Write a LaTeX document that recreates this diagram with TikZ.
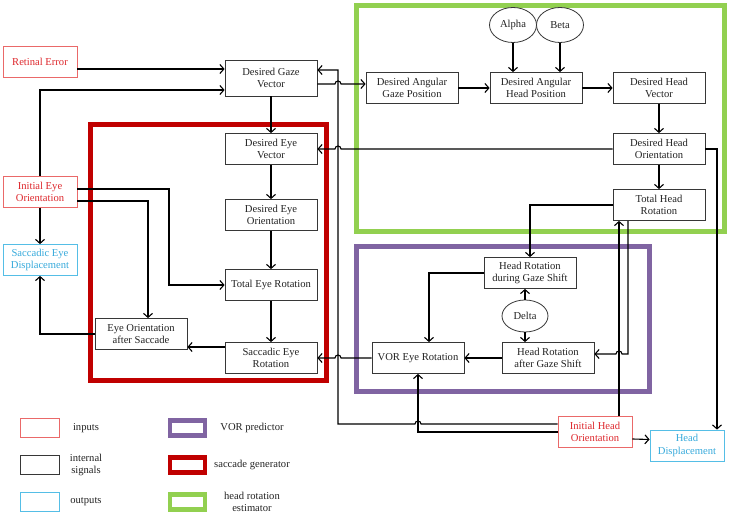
\documentclass[tikz,border=0pt]{standalone}
\usepackage{fontspec}
\setmainfont{Liberation Serif}
\usetikzlibrary{shapes.geometric,arrows.meta}

\definecolor{sigdraw}{RGB}{55,55,55}
\definecolor{sigtext}{RGB}{35,35,35}
\definecolor{indraw}{RGB}{234,105,105}
\definecolor{intext}{RGB}{222,40,45}
\definecolor{outdraw}{RGB}{85,190,230}
\definecolor{outtext}{RGB}{55,170,220}
\definecolor{sacred}{RGB}{192,0,0}
\definecolor{vorpurple}{RGB}{128,100,162}
\definecolor{headgreen}{RGB}{146,208,80}

\begin{document}
\begin{tikzpicture}[x=1pt,y=1pt,
                    every node/.style={font=\fontsize{10.6}{12.7}\selectfont},
                    sig/.style={draw=sigdraw,text=sigtext,line width=0.8pt,fill=white,align=center,
                                minimum width=92pt,minimum height=31pt,inner sep=1pt},
                    inp/.style={sig,draw=indraw,text=intext,minimum width=74pt},
                    outp/.style={sig,draw=outdraw,text=outtext,minimum width=74pt},
                    par/.style={ellipse,draw=sigdraw,text=sigtext,line width=0.8pt,fill=white,
                                minimum width=47pt,minimum height=35pt,inner sep=0pt},
                    frame/.style={line width=5pt},
                    key/.style={minimum width=35pt,minimum height=15pt,inner sep=0pt},
                    keytxt/.style={text=sigtext,align=center},
                    arr/.style={line width=1.1pt,-{Straight Barb[length=4pt,width=9pt]}}
]
\useasboundingbox (0,0) rectangle (729,516);
%
\draw[frame,draw=sacred] (90.5,135.5) rectangle (326.5,391.5);
\draw[frame,draw=headgreen] (356.5,284.5) rectangle (724.5,510.5);
\draw[frame,draw=vorpurple] (356.5,124.5) rectangle (649.5,269.5);
%
\node [inp] (reterr) at (40,454) {Retinal Error};
\node [inp] (ieo) at (40,324) {Initial Eye\\Orientation};
\node [outp] (sed) at (40,256) {Saccadic Eye\\Displacement};
\node [sig,minimum height=36pt] (dgv) at (271,438) {Desired Gaze\\Vector};
\node [sig] (dev) at (271,367) {Desired Eye\\Vector};
\node [sig] (deo) at (271,301) {Desired Eye\\Orientation};
\node [sig] (ter) at (271,231) {Total Eye Rotation};
\node [sig] (ser) at (271,158) {Saccadic Eye\\Rotation};
\node [sig] (eoas) at (141,182) {Eye Orientation\\after Saccade};
%
\node [sig] (dagp) at (412,428) {Desired Angular\\Gaze Position};
\node [sig] (dahp) at (536,428) {Desired Angular\\Head Position};
\node [par] (alpha) at (513,491) {Alpha};
\node [par] (beta) at (560,491) {Beta};
\node [sig] (dhv) at (659,428) {Desired Head\\Vector};
\node [sig] (dho) at (659,367) {Desired Head\\Orientation};
\node [sig] (thr) at (659,311) {Total Head\\Rotation};
%
\node [sig] (hrd) at (530,243) {Head Rotation\\during Gaze Shift};
\node [par,minimum width=46pt,minimum height=32pt] (delta) at (525,200) {Delta};
\node [sig] (hra) at (548,158) {Head Rotation\\after Gaze Shift};
\node [sig] (vor) at (418,158) {VOR Eye Rotation};
\node [inp] (iho) at (595,84) {Initial Head\\Orientation};
\node [outp] (hd) at (687,70.5) {Head\\Displacement};
%
\draw[arr] ([yshift=-7pt]reterr.east) -- ([yshift=9pt]dgv.west);
\draw[arr] (ieo.north) |- ([yshift=-12pt]dgv.west);
\draw[arr] (dgv.south) -- (dev.north);
\draw[arr] ([yshift=-6pt]dgv.east) -- (335,432) arc[start angle=180,end angle=0,radius=3pt] -- ([yshift=4pt]dagp.west);
\draw[arr] ([yshift=8pt]iho.west) -- (421,92) arc[start angle=0,end angle=180,radius=3pt] -- (338,92) |- ([yshift=8pt]dgv.east);
\draw[arr] (dho.west) -- (341,367) arc[start angle=0,end angle=180,radius=3pt] -- (dev.east);
\draw[arr] (vor.west) -- (341,158) arc[start angle=0,end angle=180,radius=3pt] -- (ser.east);
%
\draw[arr] ([yshift=3pt]ieo.east) -- (169,327) |- (ter.west);
\draw[arr] ([yshift=-9pt]ieo.east) -| ([xshift=7pt]eoas.north);
\draw[arr] (ieo.south) -- (sed.north);
\draw[arr] (dev.south) -- (deo.north);
\draw[arr] (deo.south) -- (ter.north);
\draw[arr] (ter.south) -- (ser.north);
\draw[arr] ([yshift=11pt]ser.west) -- ([yshift=-13pt]eoas.east);
\draw[arr] (eoas.west) -| (sed.south);
%
\draw[arr] (dagp.east) -- (dahp.west);
\draw[arr] (alpha.south) -- (alpha.south |- dahp.north);
\draw[arr] (beta.south) -- (beta.south |- dahp.north);
\draw[arr] (dahp.east) -- (dhv.west);
\draw[arr] (dhv.south) -- (dho.north);
\draw[arr] (dho.south) -- (thr.north);
\draw[arr] (dho.east) -| ([xshift=30pt]hd.north);
\draw[arr] (thr.west) -| (hrd.north);
\draw[arr] ([xshift=24pt]iho.north) -- ([xshift=-40pt]thr.south);
\draw[arr] ([xshift=-31pt]thr.south) |- (622,162) arc[start angle=0,end angle=180,radius=3pt] -- ([yshift=4pt]hra.east);
%
\draw[arr] (hrd.west) -| ([xshift=11pt]vor.north);
\draw[arr] (delta.north) -- (delta.north |- hrd.south);
\draw[arr] (delta.south) -- (delta.south |- hra.north);
\draw[arr] (hra.west) -- (vor.east);
\draw[arr] (iho.west) -| (vor.south);
\draw[arr] ([yshift=-7pt]iho.east) -- ([yshift=6pt]hd.west);
%
% legend
\node [key,draw=indraw,line width=0.8pt,minimum width=39pt,minimum height=19pt] (kin) at (40,88) {};
\node [keytxt] (kintx) at (86,88) {inputs};
\node [key,draw=sigdraw,line width=0.8pt,minimum width=39pt,minimum height=19pt] (ksig) at (40,51) {};
\node [keytxt] (ksigtx) at (86,51) {internal\\signals};
\node [key,draw=outdraw,line width=0.8pt,minimum width=39pt,minimum height=19pt] (kout) at (40,14) {};
\node [keytxt] (kouttx) at (86,14) {outputs};
\node [key,draw=vorpurple,line width=4.5pt] (kvor) at (187.5,88) {};
\node [keytxt] (kvortx) at (252,88) {VOR predictor};
\node [key,draw=sacred,line width=4.5pt] (ksac) at (187.5,51) {};
\node [keytxt] (ksactx) at (252,51) {saccade generator};
\node [key,draw=headgreen,line width=4.5pt] (khead) at (187.5,14) {};
\node [keytxt] (kheadtx) at (252,14) {head rotation\\estimator};
\end{tikzpicture}
\end{document}
